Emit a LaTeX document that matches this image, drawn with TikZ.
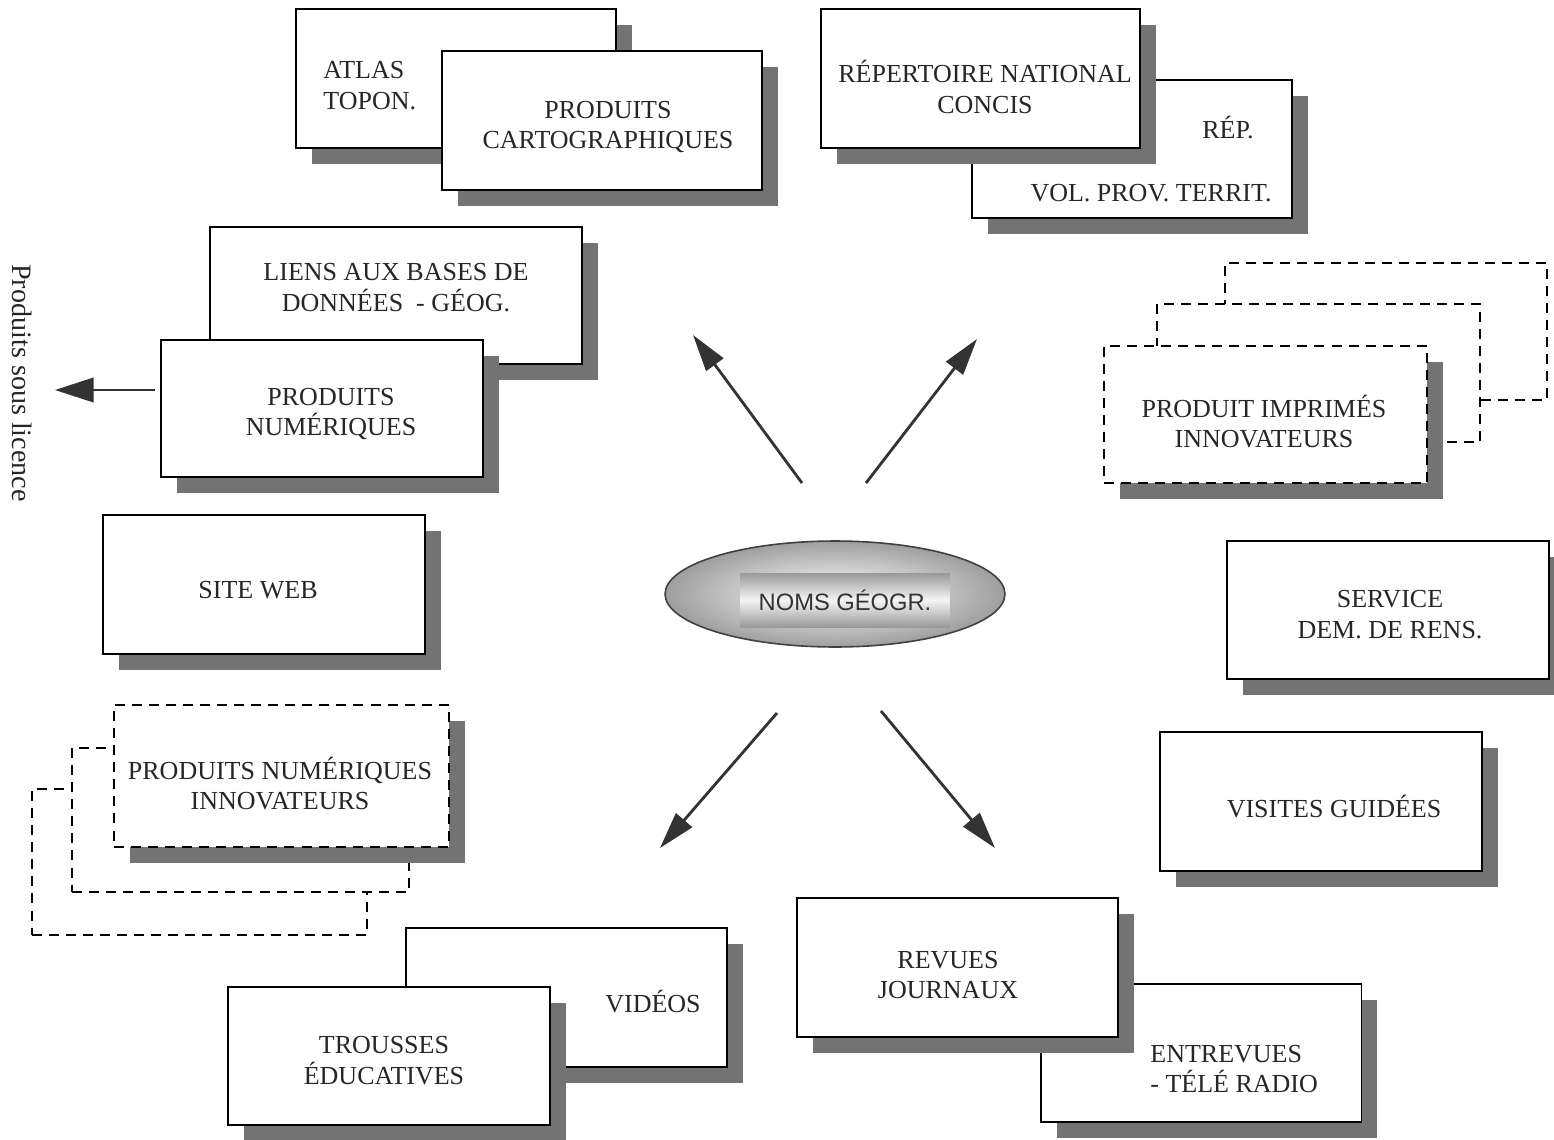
\documentclass[tikz,border=0pt]{standalone}
\usepackage{fontspec}
\setmainfont{Liberation Serif}
\newfontfamily\arialfont{Liberation Sans}
\usetikzlibrary{shapes.geometric,shadows,arrows.meta}

\begin{document}
\begin{tikzpicture}[x=0.02cm,y=-0.02cm,
    >={Triangle[length=21pt,width=12pt]},
    box/.style={draw,fill=white,line width=1.1pt,minimum width=6.44cm,minimum height=2.78cm,inner sep=0pt,
        drop shadow={shadow xshift=0.32cm,shadow yshift=-0.32cm,fill=black!55,opacity=1}},
    dbox/.style={box,dash pattern=on 5.7pt off 4pt},
    backbox/.style={draw,fill=white,line width=1.1pt,dash pattern=on 5.7pt off 4pt,minimum width=6.7cm,minimum height=2.86cm,inner sep=0pt},
    lbl/.style={align=center,text=black!85,font=\fontsize{14.8}{17.6}\selectfont,inner sep=0pt},
    fleche/.style={->,line width=1.6pt,draw=black!80,fill=black!80}]
    \path[fill=white,use as bounding box] (0,0) rectangle (1554,1139);

    \node[box,minimum width=6.4cm] (atlas) at (456,78.5) {};
    \node[lbl,anchor=west,align=left] (atlas-t) at (323,86) {ATLAS\\TOPON.};
    \node[box,minimum width=6.4cm] (carto) at (602,120.5) {};
    \node[lbl] (carto-t) at (608,127) {PRODUITS\\CARTOGRAPHIQUES};

    \node[box,minimum width=6.4cm,minimum height=2.76cm] (rep) at (1132,149) {};
    \node[lbl] (rep-t) at (1228,128) {RÉP.};
    \node[lbl] (vol-t) at (1151,193) {VOL. PROV. TERRIT.};
    \node[box,minimum width=6.38cm] (repnat) at (980.5,78.5) {};
    \node[lbl] (repnat-t) at (985,87) {RÉPERTOIRE NATIONAL\\CONCIS};

    \node[box,minimum width=7.44cm,minimum height=2.74cm] (liens) at (396,295.5) {};
    \node[lbl] (liens-t) at (396,287.5) {LIENS AUX BASES DE\\DONNÉES\ \ - GÉOG.};
    \node[box,minimum height=2.74cm] (num) at (322,408.5) {};
    \node[lbl] (num-t) at (331,414) {PRODUITS\\NUMÉRIQUES};

    \node[box] (web) at (264,584.5) {};
    \node[lbl] (web-t) at (258,590) {SITE WEB};

    \node[backbox,minimum width=6.44cm,minimum height=2.74cm] (impr3) at (1386,331.5) {};
    \node[backbox,minimum width=6.46cm,minimum height=2.76cm] (impr2) at (1318.5,373) {};
    \node[dbox,minimum width=6.46cm,minimum height=2.74cm] (impr) at (1265.5,414.5) {};
    \node[lbl] (impr-t) at (1264,421.5) {PRODUIT IMPRIMÉS\\INNOVATEURS};

    \node[backbox,minimum height=2.92cm] (numi3) at (199.5,862) {};
    \node[backbox,minimum width=6.74cm,minimum height=2.88cm] (numi2) at (240.5,820) {};
    \node[dbox,minimum width=6.7cm,minimum height=2.84cm] (numi) at (281.5,776) {};
    \node[lbl] (numi-t) at (280,783.5) {PRODUITS NUMÉRIQUES\\INNOVATEURS};

    \node[box,minimum height=2.76cm] (serv) at (1388,610) {};
    \node[lbl] (serv-t) at (1390,614.5) {SERVICE\\DEM. DE RENS.};
    \node[box] (visit) at (1321,801.5) {};
    \node[lbl] (visit-t) at (1334,807) {VISITES GUIDÉES};

    \node[box,minimum width=6.42cm,minimum height=2.76cm] (entr) at (1201,1053) {};
    \node[lbl,anchor=west,align=left] (entr-t) at (1150,1069) {ENTREVUES\\- TÉLÉ RADIO};
    \node[box,minimum width=6.42cm] (revues) at (957.5,967.5) {};
    \node[lbl] (revues-t) at (948,975) {REVUES\\JOURNAUX};

    \node[box,minimum width=6.42cm] (video) at (566.5,997.5) {};
    \node[lbl] (video-t) at (653,1002) {VIDÉOS};
    \node[box,minimum height=2.76cm] (trousse) at (389,1056) {};
    \node[lbl] (trousse-t) at (384,1061) {TROUSSES\\ÉDUCATIVES};

    \node[ellipse,draw=black!75,line width=0.9pt,minimum width=6.8cm,minimum height=2.12cm,
        inner color=white,outer color=black!38] (noms) at (835,594) {};
    \node[minimum width=4.2cm,minimum height=1.08cm,inner sep=0pt,top color=black!40,bottom color=black!40,
        middle color=black!4,text=black!80,font=\arialfont\fontsize{13.5}{16}\selectfont] (noms-t) at (845,600) {NOMS GÉOGR.};

    \node[rotate=-90,text=black!85,font=\fontsize{16}{19}\selectfont,inner sep=0pt] (licence) at (22,383) {Produits sous licence};

    \coordinate (nw-a) at (802,483); \coordinate (nw-b) at (693,335);
    \coordinate (ne-a) at (866,483); \coordinate (ne-b) at (977,339);
    \coordinate (sw-a) at (777,713); \coordinate (sw-b) at (660,848);
    \coordinate (se-a) at (881,711); \coordinate (se-b) at (995,848);
    \coordinate (lic-a) at (155,390); \coordinate (lic-b) at (55,390);
    \draw[fleche] (nw-a) -- (nw-b);
    \draw[fleche] (ne-a) -- (ne-b);
    \draw[fleche] (sw-a) -- (sw-b);
    \draw[fleche] (se-a) -- (se-b);
    \draw[fleche,line width=1.2pt,>={Triangle[length=22pt,width=14pt]}] (lic-a) -- (lic-b);
\end{tikzpicture}
\end{document}
